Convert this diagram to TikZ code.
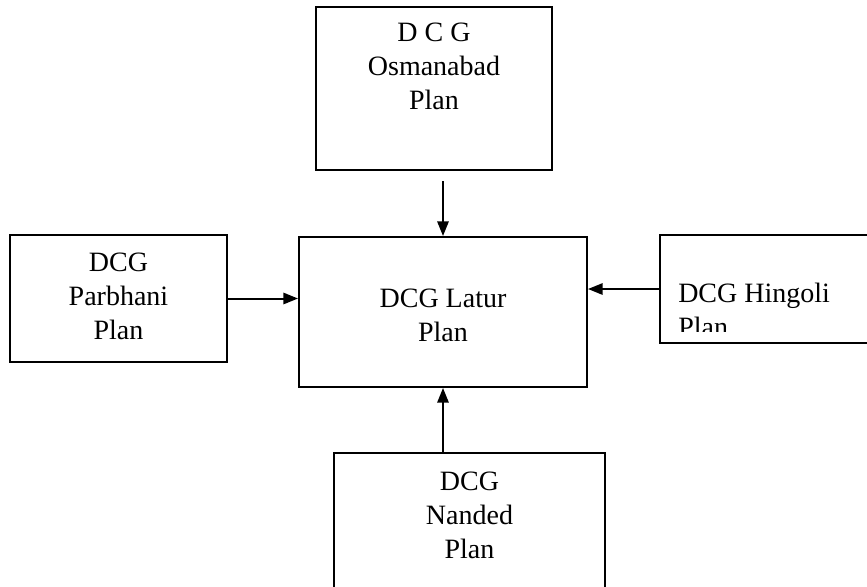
\documentclass[tikz,border=0pt]{standalone}
\usepackage{fontspec}
\setmainfont{Liberation Serif}
\usetikzlibrary{arrows.meta}

\newcommand{\planfont}{\fontsize{21}{25.5}\selectfont}

\tikzset{
  planbox/.style={draw, line width=1.5pt, inner sep=0pt},
  plantext/.style={align=center, font=\planfont, inner sep=0pt},
  flowarrow/.style={line width=1.5pt, -{Triangle[length=11pt, width=8.5pt]}}
}

\begin{document}
\begin{tikzpicture}[x=0.75pt, y=-0.75pt]
  % Fix the frame of the picture
  \clip (0,0) rectangle (867,586);

  % Draw the boxes
  \node[planbox, minimum width=177pt, minimum height=122.25pt] (osm) at (434,88.5) {};
  \node[planbox, minimum width=216pt, minimum height=112.5pt] (lat) at (443,312) {};
  \node[planbox, minimum width=162.75pt, minimum height=95.25pt] (pbh) at (118.5,298.5) {};
  \node[planbox, minimum width=180pt, minimum height=81pt] (hng) at (780,289) {};
  \node[planbox, minimum width=203.25pt, minimum height=125.25pt] (ndd) at (469.5,536.5) {};

  % Put the texts in the boxes
  \node[plantext] (osmtext) at (434,66) {D C G\\Osmanabad\\Plan};
  \node[plantext] (lattext) at (443,315) {DCG Latur\\Plan};
  \node[plantext] (pbhtext) at (118.5,296.5) {DCG\\Parbhani\\Plan};
  \node[plantext] (nddtext) at (469.5,515.5) {DCG\\Nanded\\Plan};
  \begin{scope}
    \clip (660,235) rectangle (867,331);
    \node[plantext, align=left, anchor=north west] (hngtext) at (678,283) {DCG Hingoli\\Plan};
  \end{scope}

  % Draw the arrows into the Latur box
  \coordinate (osmtail) at (443,181);
  \draw[flowarrow] (osmtail) -- (lat.north);
  \draw[flowarrow] (pbh.east) -- (pbh.east -| lat.west);
  \draw[flowarrow] (hng.west) -- (hng.west -| lat.east);
  \draw[flowarrow] (lat.south |- ndd.north) -- (lat.south);
\end{tikzpicture}
\end{document}
